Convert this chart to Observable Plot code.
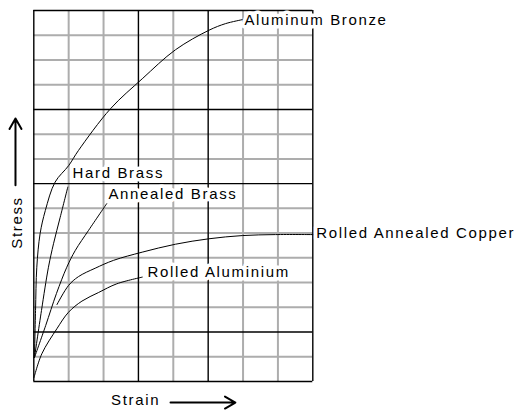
<!DOCTYPE html>
<html><head><meta charset="utf-8">
<script src="https://cdn.jsdelivr.net/npm/d3@7"></script>
<script src="https://cdn.jsdelivr.net/npm/@observablehq/plot@0.6"></script>
<style>body{margin:0;background:#fff}</style>
</head><body><div id="chart"></div>
<script>
// Curves (strain in grid columns, stress in grid rows)
const bronzeStrain = [0.02, 0.05, 0.086, 0.18, 0.33, 0.61, 1.0, 1.28, 2.2, 3.11, 4.06, 5.02, 5.5, 5.98];
const bronzeStress = [0.97, 2.87, 4.62, 5.97, 6.91, 8.06, 8.73, 9.34, 11.03, 12.24, 13.41, 14.2, 14.47, 14.63];
const hardBrassStrain = [0.02, 0.22, 0.42, 0.565, 0.757, 0.975];
const hardBrassStress = [0.97, 2.87, 4.62, 5.57, 6.64, 7.86];
const annealedBrassStrain = [0.02, 0.34, 0.65, 0.946, 1.19, 1.57, 2.09];
const annealedBrassStress = [0.97, 2.26, 3.56, 4.62, 5.30, 6.11, 7.19];
const copperStrain = [0.665, 0.995, 1.28, 1.76, 2.29, 3.11, 4.06, 5.02, 5.98, 6.93, 8.0];
const copperStress = [3.11, 3.88, 4.24, 4.58, 4.9, 5.23, 5.55, 5.77, 5.90, 5.94, 5.94];
const aluminiumStrain = [0.006, 0.23, 0.66, 0.995, 1.38, 1.86, 2.38, 3.11];
const aluminiumStress = [0.16, 1.12, 2.13, 2.8, 3.25, 3.6, 3.95, 4.22];

// Labels
const labelNames = ["Aluminum Bronze", "Hard Brass", "Annealed Brass", "Rolled Annealed Copper", "Rolled Aluminium"];
const labelStrain = [6.04, 1.11, 2.14, 8.1, 3.26];
const labelStress = [14.6, 8.41, 7.56, 5.98, 4.42];

// Grid
const greyCols = [1, 2, 4, 6, 7];
const blackCols = [0, 3, 5, 8];
const greyRows = [1, 3, 4, 5, 6, 7, 9, 10, 12, 13, 14];
const blackRows = [0, 2, 8, 11, 15];

// Axis titles
const axisTitles = ["Stress", "Strain"];
const axisTitleX = [-0.47, 2.92];
const axisTitleY = [6.43, -0.77];
const axisTitleRotate = [-90, 0];
const arrowX1 = [-0.525, 3.92], arrowY1 = [7.93, -0.85];
const arrowX2 = [-0.525, 5.78], arrowY2 = [10.63, -0.85];

const series = [
  ["bronze", bronzeStrain, bronzeStress],
  ["hard", hardBrassStrain, hardBrassStress],
  ["annealed", annealedBrassStrain, annealedBrassStress],
  ["copper", copperStrain, copperStress],
  ["aluminium", aluminiumStrain, aluminiumStress]
];
const curveData = series.flatMap(([name, xs, ys]) => xs.map((x, i) => ({name, x, y: ys[i]})));
const labels = labelNames.map((t, i) => ({t, x: labelStrain[i], y: labelStress[i]}));
const titles = axisTitles.map((t, i) => ({t, x: axisTitleX[i], y: axisTitleY[i], r: axisTitleRotate[i]}));
const arrows = arrowX1.map((_, i) => ({x1: arrowX1[i], y1: arrowY1[i], x2: arrowX2[i], y2: arrowY2[i]}));

const chart = Plot.plot({
  width: 521, height: 418,
  marginLeft: 33.3, marginRight: 208.7, marginTop: 10, marginBottom: 37,
  x: {domain: [0, 8], axis: null},
  y: {domain: [0, 15], axis: null},
  style: {fontFamily: "'Liberation Sans', Arial, sans-serif", fontSize: "15px", letterSpacing: "1.65px", background: "white"},
  marks: [
    Plot.ruleX(greyCols, {stroke: "#adadad", strokeWidth: 2}),
    Plot.ruleY(greyRows, {stroke: "#adadad", strokeWidth: 2}),
    Plot.ruleX(blackCols, {stroke: "black", strokeWidth: 1.4}),
    Plot.ruleY(blackRows, {stroke: "black", strokeWidth: 1.4}),
    Plot.line(curveData, {x: "x", y: "y", z: "name", stroke: "black", strokeWidth: 1, curve: "catmull-rom"}),
    Plot.text(labels, {x: "x", y: "y", text: "t", textAnchor: "start", fontSize: 15, fill: "black",
      stroke: "white", strokeWidth: 7, paintOrder: "stroke"}),
    Plot.text(titles, {x: "x", y: "y", text: "t", rotate: "r", fontSize: 15, fill: "black"}),
    Plot.arrow(arrows, {x1: "x1", y1: "y1", x2: "x2", y2: "y2", stroke: "black", strokeWidth: 2, headLength: 9})
  ]
});
document.getElementById("chart").appendChild(chart);
</script>
</body></html>
